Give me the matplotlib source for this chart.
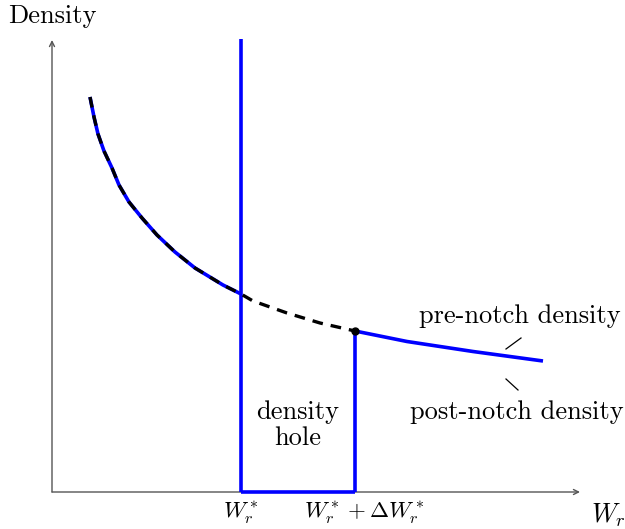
import matplotlib
matplotlib.use("Agg")
import matplotlib.pyplot as plt

plt.rcParams['font.family'] = 'serif'
plt.rcParams['font.serif'] = ['cmr10', 'DejaVu Serif']
plt.rcParams['mathtext.fontset'] = 'cm'
plt.rcParams['axes.unicode_minus'] = False

# Data (units: horizontal W_r, vertical density)
pre_x = [38, 42, 46, 52, 60, 67, 77, 90, 105, 123, 143, 171, 189]
pre_y = [395, 375, 358, 341, 324, 307, 290, 274, 257, 240, 224, 207, 198]
gap_x = [189, 201, 235, 268, 303]
gap_y = [198, 191, 179, 169, 161]
post_x = [303, 355, 388, 421, 491]
post_y = [161, 150.5, 145.5, 140.5, 131]
w_star = 189
w_star_delta = 303
y_top = 453
x_max = 528
y_max = 452

fig = plt.figure(figsize=(6.25, 5.29), dpi=100)
ax = fig.add_axes([0, 0, 1, 1])
ax.set_xlim(-52, 573)
ax.set_ylim(-37, 492)
ax.axis('off')

axcol = '#555555'
ax.annotate('', xy=(x_max, 0), xytext=(0, 0),
            arrowprops=dict(arrowstyle='->', color=axcol, lw=1.0, shrinkA=0, shrinkB=0,
                            mutation_scale=9))
ax.annotate('', xy=(0, y_max), xytext=(0, 0),
            arrowprops=dict(arrowstyle='->', color=axcol, lw=1.0, shrinkA=0, shrinkB=0,
                            mutation_scale=9))

blue = '#0000ff'
lw = 2.6
# post-notch density (blue)
ax.plot(pre_x, pre_y, color=blue, lw=lw, solid_capstyle='butt',
        solid_joinstyle='round', zorder=3)
ax.plot([w_star, w_star], [0, y_top], color=blue, lw=lw, solid_capstyle='butt', zorder=3)
ax.plot([w_star, w_star_delta], [0, 0], color=blue, lw=lw, solid_capstyle='butt', zorder=3)
ax.plot([w_star_delta, w_star_delta], [0, post_y[0]], color=blue, lw=lw,
        solid_capstyle='butt', zorder=3)
ax.plot(post_x, post_y, color=blue, lw=lw, solid_capstyle='butt',
        solid_joinstyle='round', zorder=3)
# pre-notch density (black dashed)
ax.plot(pre_x + gap_x[1:], pre_y + gap_y[1:], color='black', lw=2.4,
        dashes=(3.2, 2.4), zorder=4)
ax.plot([w_star_delta], [post_y[0]], 'o', color='black', ms=5, zorder=5)

fs = 19
ax.text(0, 476, 'Density', ha='center', va='center', fontsize=fs)
ax.text(556, -23, r'$W_r$', ha='center', va='center', fontsize=fs)
ax.text(w_star, -21, r'$W_r^*$', ha='center', va='center', fontsize=16.5)
ax.text(w_star_delta + 9, -21, r'$W_r^* + \Delta W_r^*$', ha='center', va='center',
        fontsize=16.5)
ax.text(246, 67, 'density\nhole', ha='center', va='center', fontsize=fs,
        linespacing=1.15)
ax.text(468, 176, 'pre-notch density', ha='center', va='center', fontsize=fs)
ax.text(465, 80, 'post-notch density', ha='center', va='center', fontsize=fs)
ax.plot([454, 469], [143, 154], color='black', lw=0.9)
ax.plot([454, 466], [113, 102], color='black', lw=0.9)

fig.savefig('out.png', dpi=100)
